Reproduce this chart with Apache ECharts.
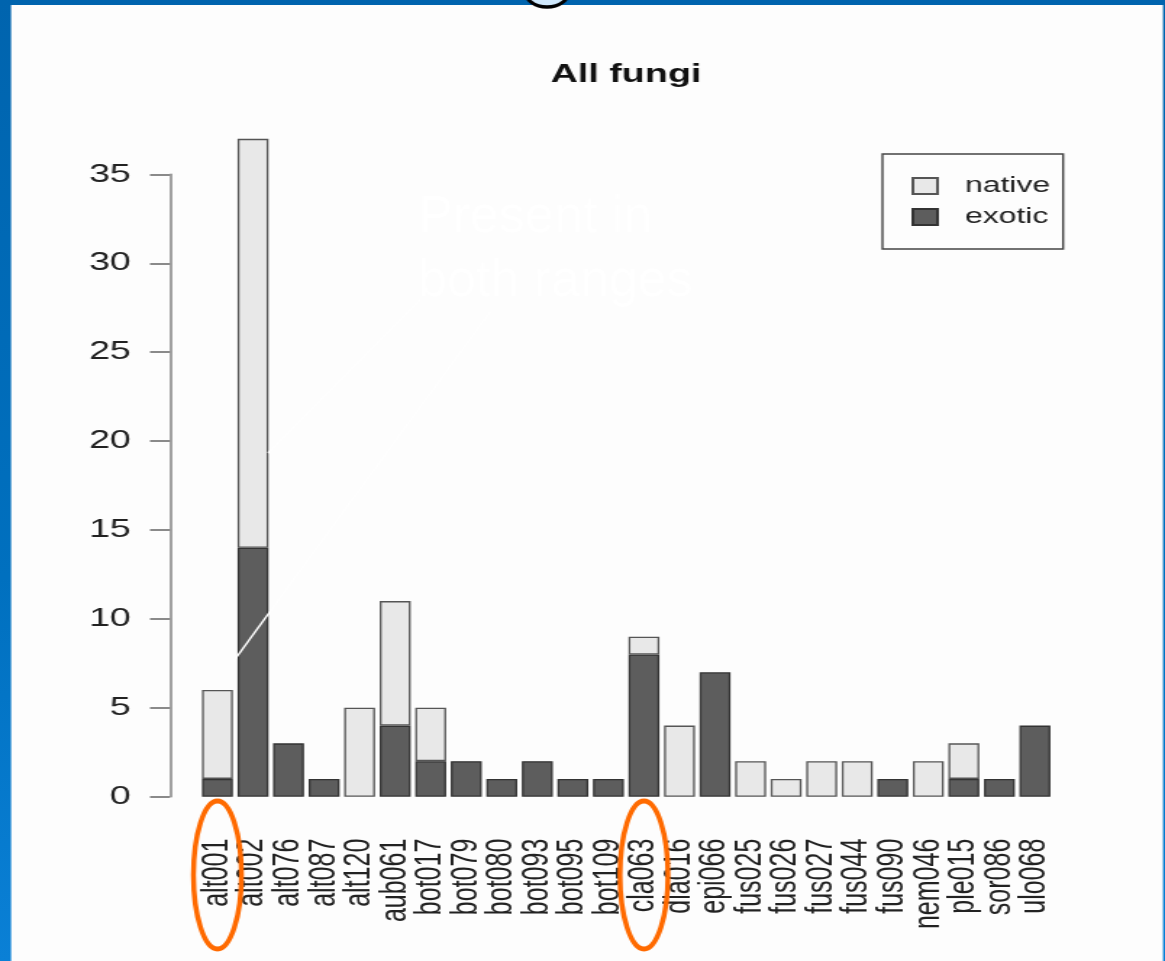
<!DOCTYPE html>
<html>
<head>
<meta charset="utf-8">
<script src="https://cdn.jsdelivr.net/npm/echarts@6/dist/echarts.min.js"></script>
<style>
  html, body { margin: 0; padding: 0; }
  body {
    width: 1165px; height: 961px; overflow: hidden; position: relative;
    background: linear-gradient(to bottom, #0064ae 0%, #0070bf 60%, #0a80d6 100%);
  }
  /* the plot is laid out on a narrower canvas and widened, as in the printed figure */
  #chart {
    position: absolute; left: 0; top: 0; width: 804px; height: 961px;
    transform-origin: 0 0; transform: scaleX(1.449);
  }
</style>
</head>
<body>
<div id="chart"></div>
<script>
// Isolates per fungal genus: counts split into exotic and native origin
const categories = ['alt001','alt002','alt076','alt087','alt120','aub061','bot017','bot079',
  'bot080','bot093','bot095','bot109','cla063','dia016','epi066','fus025','fus026','fus027',
  'fus044','fus090','nem046','ple015','sor086','ulo068'];
const exotic = [1, 14, 3, 1, null, 4, 2, 2, 1, 2, 1, 1, 8, null, 7, null, null, null, null, 1, null, 1, 1, 4];
const native = [5, 23, null, null, 5, 7, 3, null, null, null, null, null, 1, 4, null, 2, 1, 2, 2, null, 2, 2, null, null];
const seriesNames = ['native', 'exotic'];
const highlighted = ['alt001', 'cla063'];

const K = 1165 / 804;           // horizontal widening of the plot canvas
const FONT = "'Liberation Sans', Arial, Helvetica, sans-serif";

const chart = echarts.init(document.getElementById('chart'), null, { renderer: 'canvas' });

// page-level items given in page pixels; the group undoes the widening
function overlay() {
  const gridLeft = 137.8 * K, gridW = 588.7 * K;
  const band = gridW / categories.length;
  const ellipses = highlighted.map(name => {
    const cx = gridLeft + band * (categories.indexOf(name) + 0.5);
    return {
      type: 'ellipse', z: 100,
      shape: { cx: cx, cy: 875, rx: 24, ry: 74 },
      style: { fill: null, stroke: '#ff6a00', lineWidth: 5 }
    };
  });
  return [{
    type: 'group', x: 0, y: 0, scaleX: 1 / K,
    children: [
      // white slide panel
      { type: 'rect', z: -100, shape: { x: 11, y: 5, width: 1152, height: 960 },
        style: { fill: '#fdfdfd' } },
      // slide caption and its pointer lines
      { type: 'text', x: 418, y: 186, z: 90,
        style: { text: 'Present in\nboth ranges', fill: '#ffffff', font: '52px ' + FONT, lineHeight: 64 } },
      { type: 'line', z: 90, shape: { x1: 233, y1: 662, x2: 490, y2: 312 },
        style: { stroke: '#ffffff', lineWidth: 2 } },
      { type: 'line', z: 90, shape: { x1: 268, y1: 453, x2: 420, y2: 300 },
        style: { stroke: '#ffffff', lineWidth: 2 } },
      // lower edge of a heading letter above the panel
      { type: 'ellipse', z: 90, shape: { cx: 547, cy: -9, rx: 22, ry: 16 },
        style: { fill: '#cfe8fc', stroke: '#000000', lineWidth: 3.5 } }
    ].concat(ellipses)
  }];
}

chart.setOption({
  animation: false,
  backgroundColor: 'transparent',
  title: {
    text: 'All fungi',
    left: 427, top: 57, textAlign: 'center',
    textStyle: { fontFamily: FONT, fontSize: 26, fontWeight: 'bold', color: '#111' }
  },
  legend: {
    data: seriesNames,
    orient: 'vertical',
    left: 609, top: 154,
    padding: [21, 9, 21, 20],
    itemGap: 9,
    itemWidth: 17, itemHeight: 16,
    icon: 'rect',
    borderColor: '#444', borderWidth: 1.4,
    textStyle: { fontFamily: FONT, fontSize: 22, color: '#222', padding: [0, 0, 0, 14] },
    selectedMode: false
  },
  grid: { left: 137.8, right: 77.5, top: 174.4, bottom: 164.3, containLabel: false },
  xAxis: {
    type: 'category',
    data: categories,
    axisLine: { show: false },
    axisTick: { show: false },
    axisLabel: { rotate: 90, interval: 0, margin: 42, fontFamily: FONT, fontSize: 25, color: '#222' },
    splitLine: { show: false }
  },
  yAxis: {
    type: 'value', min: 0, max: 35, interval: 5, offset: 20.5,
    axisLine: { show: true, lineStyle: { color: '#8a8a8a', width: 1.6 } },
    axisTick: { show: true, length: 13.8, lineStyle: { color: '#8a8a8a', width: 2 } },
    axisLabel: { margin: 27, fontFamily: FONT, fontSize: 26, color: '#222' },
    splitLine: { show: false }
  },
  series: [
    {
      name: 'exotic', type: 'bar', stack: 'total', data: exotic,
      barWidth: '87%', clip: false,
      itemStyle: { color: '#5d5d5d', borderColor: '#333', borderWidth: 1.3 }
    },
    {
      name: 'native', type: 'bar', stack: 'total', data: native,
      barWidth: '87%', clip: false,
      itemStyle: { color: '#e8e8e8', borderColor: '#555', borderWidth: 1.3 }
    }
  ],
  graphic: overlay()
});
</script>
</body>
</html>
